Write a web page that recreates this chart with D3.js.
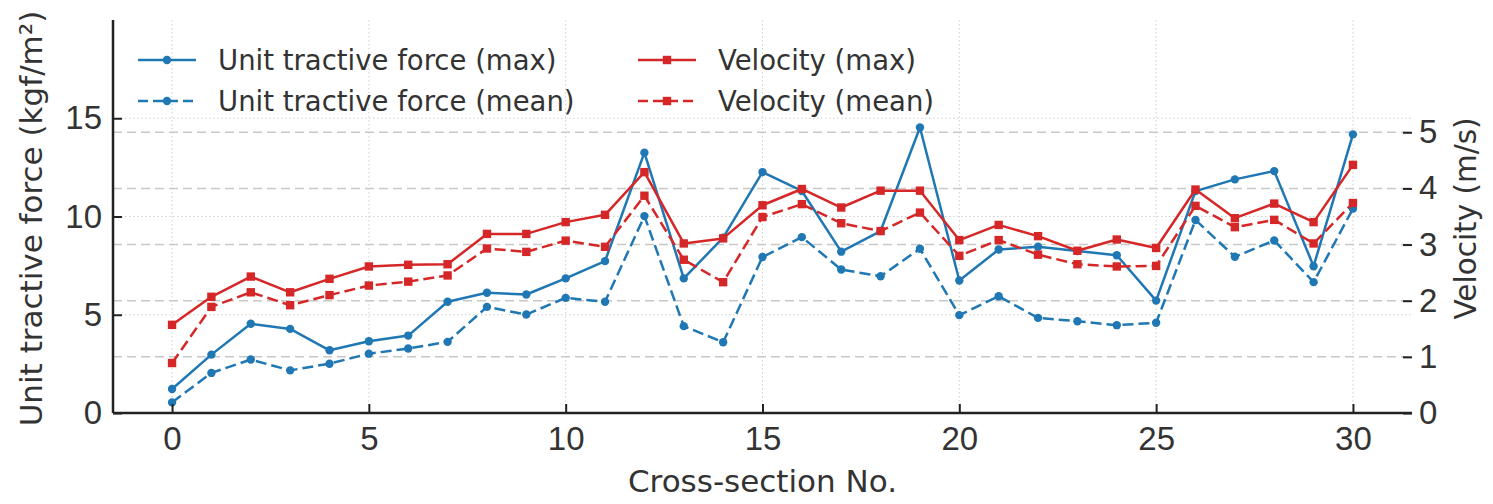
<!DOCTYPE html>
<html>
<head>
<meta charset="utf-8">
<script src="https://cdn.jsdelivr.net/npm/d3@7"></script>
<style>
    body { margin: 0; background: #fff; }
    svg { display: block; font-family: "DejaVu Sans", sans-serif; }
</style>
</head>
<body>
<div id="chart"></div>
<script>
///////////////////////////
// DATA
///////////////////////////

const sections = [0, 1, 2, 3, 4, 5, 6, 7, 8, 9, 10, 11, 12, 13, 14, 15,
    16, 17, 18, 19, 20, 21, 22, 23, 24, 25, 26, 27, 28, 29, 30];

// unit tractive force, kgf/m2 (left axis)
const forceMax = [1.22, 2.97, 4.54, 4.28, 3.19, 3.65, 3.94, 5.66, 6.12, 6.03,
    6.85, 7.73, 13.25, 6.85, 8.92, 12.26, 11.30, 8.21, 9.26, 14.53,
    6.74, 8.32, 8.46, 8.24, 8.03, 5.72, 11.29, 11.89, 12.31, 7.47, 14.18];
const forceMean = [0.54, 2.04, 2.72, 2.17, 2.51, 3.02, 3.28, 3.62, 5.40, 5.01,
    5.86, 5.66, 10.02, 4.42, 3.60, 7.94, 8.95, 7.30, 6.96, 8.36,
    4.98, 5.94, 4.84, 4.67, 4.47, 4.59, 9.82, 7.95, 8.78, 6.66, 10.40];

// velocity, m/s (right axis)
const velMax = [1.57, 2.07, 2.43, 2.15, 2.39, 2.61, 2.64, 2.65, 3.19, 3.19,
    3.40, 3.53, 4.29, 3.02, 3.11, 3.70, 3.99, 3.66, 3.96, 3.96,
    3.08, 3.35, 3.15, 2.89, 3.09, 2.94, 3.98, 3.47, 3.73, 3.40, 4.42];
const velMean = [0.89, 1.89, 2.15, 1.92, 2.10, 2.27, 2.34, 2.45, 2.93, 2.87,
    3.07, 2.96, 3.87, 2.73, 2.33, 3.49, 3.72, 3.38, 3.24, 3.57,
    2.80, 3.08, 2.82, 2.65, 2.61, 2.62, 3.69, 3.31, 3.44, 3.02, 3.74];

const xTicks = [0, 5, 10, 15, 20, 25, 30];
const leftTicks = [0, 5, 10, 15];
const rightTicks = [0, 1, 2, 3, 4, 5];

const labels = {
    x: 'Cross-section No.',
    left: 'Unit tractive force (kgf/m²)',
    right: 'Velocity (m/s)'
};

///////////////////////////
// SETUP
///////////////////////////

const W = 1493, H = 504;
const m = { top: 20, right: 81, bottom: 91, left: 113 };
const iw = W - m.left - m.right;
const ih = H - m.top - m.bottom;

const blue = '#1f77b4';
const red = '#d62728';
const ink = '#333';

const svg = d3.select('#chart')
    .append('svg')
    .attr('width', W)
    .attr('height', H);

const g = svg.append('g').attr('transform', `translate(${m.left},${m.top})`);

const x = d3.scaleLinear().domain([-1.5, 31.5]).range([0, iw]);
const yL = d3.scaleLinear().domain([0, 20]).range([ih, 0]);
const yR = d3.scaleLinear().domain([0, 7]).range([ih, 0]);

// grids
const grid = g.append('g');
grid.selectAll('.vgrid')
    .data(xTicks)
    .enter().append('line')
    .attr('x1', d => x(d)).attr('x2', d => x(d))
    .attr('y1', 0).attr('y2', ih)
    .style('stroke', '#cfcfcf')
    .style('stroke-width', 1)
    .style('stroke-dasharray', '1.5,2.5');

grid.selectAll('.lgrid')
    .data(leftTicks.slice(1))
    .enter().append('line')
    .attr('x1', 0).attr('x2', iw)
    .attr('y1', d => yL(d)).attr('y2', d => yL(d))
    .style('stroke', '#cfcfcf')
    .style('stroke-width', 1)
    .style('stroke-dasharray', '1.5,2.5');

grid.selectAll('.rgrid')
    .data(rightTicks.slice(1))
    .enter().append('line')
    .attr('x1', 0).attr('x2', iw)
    .attr('y1', d => yR(d)).attr('y2', d => yR(d))
    .style('stroke', '#c8c8c8')
    .style('stroke-width', 1.5)
    .style('stroke-dasharray', '9,5');

///////////////////////////
// SERIES
///////////////////////////

const series = [
    { name: 'Unit tractive force (max)', values: forceMax, y: yL, color: blue, dash: null, marker: 'circle' },
    { name: 'Unit tractive force (mean)', values: forceMean, y: yL, color: blue, dash: '11,5', marker: 'circle' },
    { name: 'Velocity (max)', values: velMax, y: yR, color: red, dash: null, marker: 'square' },
    { name: 'Velocity (mean)', values: velMean, y: yR, color: red, dash: '11,5', marker: 'square' }
];

const drawMarker = (sel, s, px, py) => {
    if (s.marker === 'circle') {
        sel.append('circle')
            .attr('cx', px).attr('cy', py).attr('r', 4.2)
            .style('fill', s.color);
    } else {
        sel.append('rect')
            .attr('x', px - 4.2).attr('y', py - 4.2)
            .attr('width', 8.4).attr('height', 8.4)
            .style('fill', s.color);
    }
};

series.forEach(s => {
    const pts = sections.map((d, i) => [d, s.values[i]]);
    const line = d3.line().x(d => x(d[0])).y(d => s.y(d[1]));
    const sg = g.append('g');
    sg.append('path')
        .datum(pts)
        .attr('d', line)
        .style('fill', 'none')
        .style('stroke', s.color)
        .style('stroke-width', 2.5)
        .style('stroke-linejoin', 'round')
        .style('stroke-dasharray', s.dash);
    pts.forEach(p => drawMarker(sg, s, x(p[0]), s.y(p[1])));
});

///////////////////////////
// AXES
///////////////////////////

const styleAxis = (ax) => {
    ax.select('.domain').remove();
    ax.selectAll('.tick line').style('stroke', '#222').style('stroke-width', 2);
    ax.selectAll('.tick text')
        .style('fill', ink)
        .style('font-size', '33px');
};

const xAxis = g.append('g')
    .attr('transform', `translate(0,${ih})`)
    .call(d3.axisBottom(x).tickValues(xTicks).tickSize(-9).tickPadding(14).tickFormat(d3.format('d')));
styleAxis(xAxis);

const lAxis = g.append('g')
    .call(d3.axisLeft(yL).tickValues(leftTicks).tickSize(-9).tickPadding(11).tickFormat(d3.format('d')));
styleAxis(lAxis);

const rAxis = g.append('g')
    .attr('transform', `translate(${iw},0)`)
    .call(d3.axisRight(yR).tickValues(rightTicks).tickSize(-9).tickPadding(7).tickFormat(d3.format('d')));
styleAxis(rAxis);

// spines
g.append('line')
    .attr('x1', 0).attr('x2', 0).attr('y1', 0).attr('y2', ih)
    .style('stroke', '#222').style('stroke-width', 2.5);
g.append('line')
    .attr('x1', 0).attr('x2', iw).attr('y1', ih).attr('y2', ih)
    .style('stroke', '#222').style('stroke-width', 2.5);

// axis labels
svg.append('text')
    .attr('x', m.left + iw / 2).attr('y', 492)
    .attr('text-anchor', 'middle')
    .style('font-size', '31px').style('fill', ink)
    .text(labels.x);

svg.append('text')
    .attr('transform', `translate(42,${m.top + ih / 2 + 2}) rotate(-90)`)
    .attr('text-anchor', 'middle')
    .style('font-size', '31px').style('fill', ink)
    .text(labels.left);

svg.append('text')
    .attr('transform', `translate(1476,${m.top + ih / 2 + 2}) rotate(-90)`)
    .attr('text-anchor', 'middle')
    .style('font-size', '29.5px').style('fill', ink)
    .text(labels.right);

///////////////////////////
// LEGEND
///////////////////////////

const legendCols = [25, 525];
const legendRows = [40, 81];

const legend = g.append('g');
series.forEach((s, i) => {
    const lx = legendCols[Math.floor(i / 2)];
    const ly = legendRows[i % 2];
    const item = legend.append('g');
    item.append('line')
        .attr('x1', lx).attr('x2', lx + 58)
        .attr('y1', ly).attr('y2', ly)
        .style('stroke', s.color)
        .style('stroke-width', 2.5)
        .style('stroke-dasharray', s.dash ? '10,5' : null);
    drawMarker(item, s, lx + 29, ly);
    item.append('text')
        .attr('x', lx + 80).attr('y', ly + 10)
        .style('font-size', '27.5px').style('fill', ink)
        .text(s.name);
});
</script>
</body>
</html>
